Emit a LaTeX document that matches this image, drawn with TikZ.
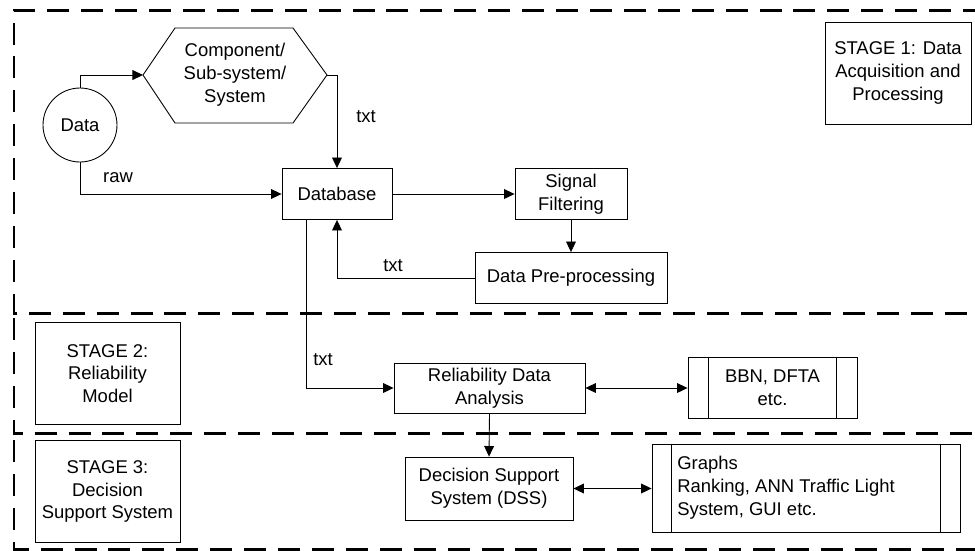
\documentclass[tikz,border=0pt]{standalone}
\usepackage{fontspec}
\setmainfont{Liberation Sans}
\usetikzlibrary{arrows.meta}

\begin{document}
\begin{tikzpicture}[x=0.2mm,y=-0.2mm,>={Triangle[length=6pt,width=5.6pt]},
                    line width=0.5pt,
                    font=\fontsize{10.5}{13}\selectfont]
  \tikzset{box/.style={draw,rectangle,inner sep=0pt,align=center},
           stagebox/.style={draw,rectangle,inner sep=0pt,align=center,
                            minimum width=29mm,minimum height=20.4mm},
           frame/.style={line width=1.7pt,dash pattern=on 12.5pt off 6.8pt},
           lbl/.style={inner sep=1pt}}
  \useasboundingbox (0,0) rectangle (975,550);

  % stage frames
  \begin{scope}
    \clip (0,0) rectangle (975,550);
    \draw[frame] (985,10) -- (14,10) -- (14,313) -- (985,313);
    \draw[frame] (14,318) -- (14,433) -- (985,433);
    \draw[frame] (14,440) -- (14,549) -- (985,549);
  \end{scope}

  \node[draw,circle,minimum size=14.8mm,inner sep=0pt] (data) at (80,125) {Data};
  \node[align=center] (comp) at (235,75) {Component/\\Sub-system/\\System};
  \draw (143,75) coordinate (compW) -- (175,28) -- (293,28)
        -- (327,75) coordinate (compE) -- (293,123) -- (175,123) -- cycle;

  \node[box,minimum width=22mm,minimum height=10.2mm] (db) at (337,194) {Database};
  \node[box,minimum width=22.4mm,minimum height=10.2mm] (filt) at (571,194) {Signal\\Filtering};
  \node[box,minimum width=38.4mm,minimum height=10.2mm] (prep) at (571,278) {Data Pre-processing};
  \node[box,minimum width=38.2mm,minimum height=10mm] (rda) at (489.5,388) {Reliability Data\\Analysis};
  \node[box,minimum width=33.8mm,minimum height=12.2mm] (bbn) at (772.5,387.5) {BBN, DFTA\\etc.};
  \draw ([xshift=4.2mm]bbn.north west) -- ([xshift=4.2mm]bbn.south west)
        ([xshift=-4.2mm]bbn.north east) -- ([xshift=-4.2mm]bbn.south east);
  \node[box,minimum width=33.6mm,minimum height=12.6mm] (dss) at (489,488.5) {Decision Support\\System (DSS)};
  \node[box,minimum width=61.6mm,minimum height=17.6mm] (gfx) at (806,488) {};
  \draw ([xshift=4mm]gfx.north west) -- ([xshift=4mm]gfx.south west)
        ([xshift=-4mm]gfx.north east) -- ([xshift=-4mm]gfx.south east);
  \node[align=left,anchor=west] (gfxtxt) at (671,488) {Graphs\\Ranking, ANN Traffic Light\\System, GUI etc.};

  \node[stagebox,minimum width=29.2mm] (s1) at (898,73) {STAGE 1: Data\\Acquisition and\\Processing};
  \node[stagebox] (s2) at (107.5,373.5) {STAGE 2:\\Reliability\\Model};
  \node[stagebox] (s3) at (107.5,491.5) {STAGE 3:\\Decision\\Support System};

  % connectors
  \draw[->] (data.north) |- (compW);
  \draw[->] (compE) -| (db.north);
  \node[lbl] (t1) at (366,117) {txt};
  \draw[->] (data.south) |- (db.west);
  \node[lbl] (raw) at (118,178) {raw};
  \draw[->] (db.east) -- (filt.west);
  \draw[->] (filt.south) -- (prep.north);
  \draw[->] (prep.west) -| (db.south);
  \node[lbl] (t2) at (393,266) {txt};
  \draw[->] ([xshift=-6.2mm]db.south) |- (rda.west);
  \node[lbl] (t3) at (323,360) {txt};
  \draw[<->] (rda.east) -- (rda.east -| bbn.west);
  \draw[->] (rda.south) -- (dss.north);
  \draw[<->] (dss.east) -- (dss.east -| gfx.west);
\end{tikzpicture}
\end{document}
